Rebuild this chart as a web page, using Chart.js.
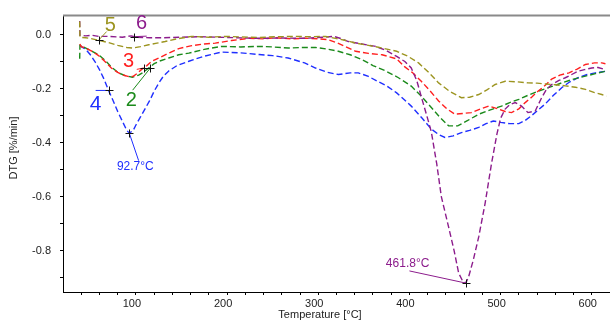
<!DOCTYPE html>
<html>
<head>
<meta charset="utf-8">
<script src="https://cdn.jsdelivr.net/npm/chart.js@4"></script>
<style>
  html, body { margin: 0; padding: 0; background: #fff; }
  #wrap { width: 610px; height: 320px; }
</style>
</head>
<body>
<div id="wrap"><canvas id="c" width="610" height="320"></canvas></div>
<script>
// DTG curves: temperature [°C] and mass-loss rate [%/min] for samples 2-6
const t2 = [38.3, 38.6, 45, 52, 59, 66, 73, 81, 88, 96, 103, 108, 114, 120, 127, 136, 147, 158, 175, 194, 215, 235, 250, 267, 285, 297, 310, 322, 335, 348, 360, 374, 388, 402, 413, 424, 433, 443, 453, 464, 476, 488, 501, 510, 520, 530, 541, 554, 567, 580, 593, 604, 615];
const dtg2 = [-0.09, -0.04, -0.05, -0.062, -0.075, -0.095, -0.12, -0.142, -0.152, -0.158, -0.15, -0.14, -0.124, -0.108, -0.097, -0.087, -0.075, -0.069, -0.055, -0.044, -0.046, -0.044, -0.046, -0.05, -0.048, -0.048, -0.054, -0.062, -0.075, -0.093, -0.115, -0.135, -0.16, -0.191, -0.228, -0.27, -0.305, -0.338, -0.338, -0.318, -0.295, -0.28, -0.265, -0.252, -0.24, -0.225, -0.21, -0.195, -0.179, -0.165, -0.154, -0.145, -0.136];

const t3 = [38.5, 40, 45, 52, 59, 66, 73, 80, 86, 92, 97, 101, 106, 112, 117, 125, 136, 147, 160, 175, 187, 205, 224, 240, 253, 270, 286, 300, 311, 320, 330, 341, 355, 370, 386, 395, 403, 413, 423, 432, 441, 450, 459, 468, 478, 487, 498, 505, 512, 520, 527, 534, 541, 549, 556, 565, 575, 584, 593, 603, 611, 615];
const dtg3 = [-0.035, -0.045, -0.05, -0.062, -0.078, -0.1, -0.124, -0.14, -0.15, -0.156, -0.155, -0.145, -0.13, -0.115, -0.1, -0.087, -0.069, -0.052, -0.042, -0.035, -0.032, -0.022, -0.014, -0.016, -0.012, -0.016, -0.014, -0.016, -0.019, -0.03, -0.045, -0.062, -0.07, -0.075, -0.09, -0.12, -0.14, -0.173, -0.21, -0.246, -0.275, -0.295, -0.292, -0.289, -0.275, -0.265, -0.276, -0.285, -0.289, -0.275, -0.252, -0.232, -0.21, -0.188, -0.165, -0.15, -0.142, -0.128, -0.111, -0.105, -0.105, -0.108];

const t4 = [38.5, 40, 45, 50, 55, 60, 65, 70, 75, 80, 85, 90, 92.7, 97, 100, 105, 110, 115, 120, 125, 130, 136, 145, 158, 175, 194, 215, 235, 250, 267, 285, 297, 310, 322, 335, 344, 355, 366, 375, 386, 402, 414, 424, 432, 439, 448, 457, 466, 476, 484, 492, 500, 510, 520, 527, 534, 541, 549, 558, 567, 576, 585, 595, 604, 615];
const dtg4 = [-0.04, -0.045, -0.055, -0.075, -0.1, -0.13, -0.165, -0.207, -0.245, -0.285, -0.32, -0.355, -0.365, -0.355, -0.335, -0.305, -0.275, -0.245, -0.21, -0.18, -0.155, -0.135, -0.115, -0.099, -0.08, -0.065, -0.068, -0.074, -0.078, -0.087, -0.105, -0.124, -0.14, -0.148, -0.142, -0.142, -0.155, -0.175, -0.19, -0.216, -0.265, -0.31, -0.35, -0.37, -0.381, -0.375, -0.363, -0.355, -0.344, -0.33, -0.32, -0.325, -0.33, -0.33, -0.318, -0.3, -0.28, -0.257, -0.225, -0.197, -0.175, -0.16, -0.148, -0.142, -0.136];

const t5 = [38.3, 38.6, 45, 52, 59, 70, 80, 90, 96, 105, 114, 123, 132, 145, 161, 180, 198, 215, 235, 255, 275, 290, 308, 320, 330, 341, 355, 370, 386, 398, 410, 421, 432, 444, 457, 466, 476, 485, 494, 505, 518, 530, 540, 549, 560, 571, 582, 593, 603, 611, 616];
const dtg5 = [0.048, -0.01, -0.012, -0.016, -0.021, -0.03, -0.04, -0.048, -0.05, -0.045, -0.038, -0.032, -0.026, -0.016, -0.007, -0.01, -0.007, -0.009, -0.011, -0.008, -0.007, -0.008, -0.007, -0.015, -0.022, -0.032, -0.04, -0.05, -0.062, -0.08, -0.105, -0.14, -0.179, -0.21, -0.234, -0.232, -0.222, -0.205, -0.185, -0.173, -0.175, -0.179, -0.18, -0.183, -0.186, -0.19, -0.195, -0.203, -0.215, -0.222, -0.228];

const t6 = [38.3, 38.6, 45, 52, 59, 70, 85, 95, 100, 115, 130, 150, 170, 190, 210, 235, 260, 285, 305, 317, 325, 333, 348, 363, 375, 386, 395, 402, 408, 413, 419, 424, 430, 435, 443, 449, 454, 458, 461.8, 465, 470, 476, 483, 490, 496, 500, 505, 510, 516, 523, 530, 538, 545, 550, 556, 564, 571, 578, 585, 592, 600, 607, 615];
const dtg6 = [0.05, -0.003, -0.005, -0.003, -0.007, -0.007, -0.01, -0.005, -0.01, -0.012, -0.012, -0.01, -0.008, -0.01, -0.012, -0.014, -0.013, -0.014, -0.01, -0.007, -0.015, -0.026, -0.035, -0.044, -0.06, -0.081, -0.1, -0.124, -0.17, -0.23, -0.3, -0.36, -0.48, -0.6, -0.713, -0.8, -0.883, -0.91, -0.92, -0.896, -0.835, -0.749, -0.625, -0.478, -0.368, -0.31, -0.276, -0.26, -0.252, -0.265, -0.289, -0.283, -0.234, -0.205, -0.185, -0.17, -0.16, -0.148, -0.136, -0.13, -0.124, -0.122, -0.13];

// Axis ticks
const xTickValues = [40, 60, 80, 100, 120, 140, 160, 180, 200, 220, 240, 260, 280, 300, 320, 340, 360, 380, 400, 420, 440, 460, 480, 500, 520, 540, 560, 580, 600];
const xTickLabels = [100, 200, 300, 400, 500, 600];
const yTickValues = [0, -0.1, -0.2, -0.3, -0.4, -0.5, -0.6, -0.7, -0.8, -0.9];
const yTickLabels = [0, -0.2, -0.4, -0.6, -0.8];

const COLORS = { s2: '#1b8a1b', s3: '#ff1f1f', s4: '#1f2fff', s5: '#9c9420', s6: '#8c1c8c' };

// Peak markers, curve labels with leader lines, and peak temperature labels
const markers = [[70.1, -0.207], [92.7, -0.365], [115.8, -0.124], [108.4, -0.124], [59.1, -0.021], [97.5, -0.008], [461.8, -0.92]];
const curveLabels = [
  { text: '4', x: 55.8, y: -0.257, color: COLORS.s4, size: 21, from: [55.8, -0.207], to: [70.1, -0.207] },
  { text: '2', x: 95.0, y: -0.246, color: COLORS.s2, size: 20, from: [96.4, -0.206], to: [115.8, -0.124] },
  { text: '3', x: 92.0, y: -0.099, color: COLORS.s3, size: 20, from: [100.9, -0.129], to: [108.4, -0.124] },
  { text: '5', x: 71.9, y: 0.033, color: COLORS.s5, size: 20, from: [67.9, 0.011], to: [59.1, -0.021] },
  { text: '6', x: 106.3, y: 0.040, color: COLORS.s6, size: 20, from: [97.5, -0.008], to: [111.8, -0.006] }
];
const peakLabels = [
  { text: '92.7°C', x: 99.3, y: -0.489, color: COLORS.s4, from: [103.0, -0.467], to: [92.7, -0.365] },
  { text: '461.8°C', x: 398.0, y: -0.847, color: COLORS.s6, from: [400.0, -0.875], to: [461.8, -0.92] }
];

const FONT = '"Liberation Sans", Arial, sans-serif';

function series(label, t, v, color) {
  return {
    label,
    data: t.map((x, i) => ({ x, y: v[i] })),
    borderColor: color,
    borderWidth: 1.4,
    borderDash: [6, 3],
    pointRadius: 0,
    tension: 0,
    fill: false
  };
}

const decorPlugin = {
  id: 'decor',
  afterDatasetsDraw(chart) {
    const { ctx, chartArea, scales } = chart;
    const px = v => scales.x.getPixelForValue(v);
    const py = v => scales.y.getPixelForValue(v);
    ctx.save();

    // top frame line
    ctx.strokeStyle = '#8a8a8a';
    ctx.lineWidth = 2;
    ctx.beginPath();
    ctx.moveTo(chartArea.left, chartArea.top);
    ctx.lineTo(chartArea.right, chartArea.top);
    ctx.stroke();

    // leader lines
    ctx.lineWidth = 1;
    [...curveLabels, ...peakLabels].forEach(l => {
      ctx.strokeStyle = l.color;
      ctx.beginPath();
      ctx.moveTo(px(l.from[0]), py(l.from[1]));
      ctx.lineTo(px(l.to[0]), py(l.to[1]));
      ctx.stroke();
    });

    // crosses
    ctx.strokeStyle = '#111';
    ctx.lineWidth = 1;
    markers.forEach(([t, v]) => {
      const x = Math.round(px(t)) + 0.5, y = Math.round(py(v)) + 0.5;
      ctx.beginPath();
      ctx.moveTo(x - 4, y); ctx.lineTo(x + 4, y);
      ctx.moveTo(x, y - 4); ctx.lineTo(x, y + 4);
      ctx.stroke();
    });

    // labels
    ctx.textAlign = 'center';
    ctx.textBaseline = 'middle';
    curveLabels.forEach(l => {
      ctx.fillStyle = l.color;
      ctx.font = l.size + 'px ' + FONT;
      ctx.fillText(l.text, px(l.x), py(l.y));
    });
    peakLabels.forEach(l => {
      ctx.fillStyle = l.color;
      ctx.font = '12px ' + FONT;
      ctx.fillText(l.text, px(l.x), py(l.y));
    });

    // axis titles
    ctx.fillStyle = '#222';
    ctx.font = '11px ' + FONT;
    ctx.fillText('Temperature [°C]', 320, 315);
    ctx.translate(14, 148);
    ctx.rotate(-Math.PI / 2);
    ctx.fillText('DTG [%/min]', 0, 0);
    ctx.restore();
  }
};

new Chart(document.getElementById('c'), {
  type: 'line',
  data: {
    datasets: [
      series('5', t5, dtg5, COLORS.s5),
      series('6', t6, dtg6, COLORS.s6),
      series('3', t3, dtg3, COLORS.s3),
      series('2', t2, dtg2, COLORS.s2),
      series('4', t4, dtg4, COLORS.s4)
    ]
  },
  options: {
    responsive: false,
    animation: false,
    layout: { padding: { top: 14, right: 0, left: 0, bottom: 0 } },
    plugins: { legend: { display: false }, tooltip: { enabled: false } },
    scales: {
      x: {
        type: 'linear',
        min: 20,
        max: 620,
        afterFit(s) { s.height = 28; },
        afterBuildTicks(s) { s.ticks = xTickValues.map(v => ({ value: v })); },
        ticks: {
          autoSkip: false,
          maxRotation: 0,
          padding: 2,
          labelOffset: -4,
          color: '#222',
          font: { family: FONT, size: 11 },
          callback: v => (xTickLabels.includes(v) ? String(v) : '')
        },
        grid: { drawOnChartArea: false, drawTicks: true, tickLength: 3, color: '#000' },
        border: { color: '#000', width: 1 }
      },
      y: {
        type: 'linear',
        min: -0.953,
        max: 0.07,
        afterFit(s) { s.width = 63; },
        afterBuildTicks(s) { s.ticks = yTickValues.map(v => ({ value: v })); },
        ticks: {
          autoSkip: false,
          padding: 9,
          color: '#222',
          font: { family: FONT, size: 11 },
          callback: v => (yTickLabels.includes(v) ? v.toFixed(1) : '')
        },
        grid: { drawOnChartArea: false, drawTicks: true, tickLength: 3, color: '#000' },
        border: { color: '#000', width: 1 }
      }
    }
  },
  plugins: [decorPlugin]
});
</script>
</body>
</html>
